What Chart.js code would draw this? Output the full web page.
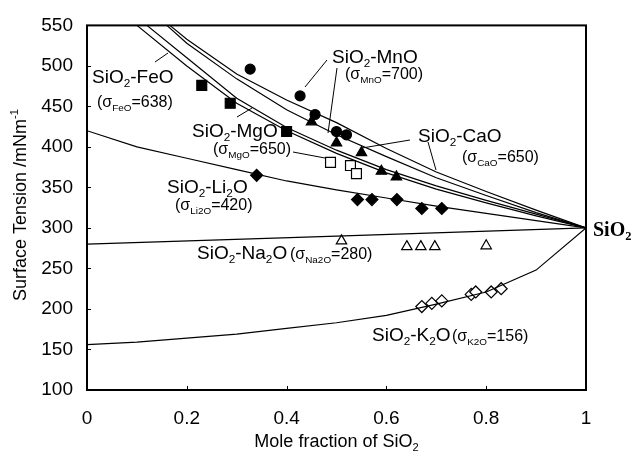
<!DOCTYPE html>
<html>
<head>
<meta charset="utf-8">
<script src="https://cdn.jsdelivr.net/npm/chart.js@4"></script>
<style>
  html, body { margin: 0; padding: 0; background: #fff; }
  #wrap { width: 639px; height: 453px; }
</style>
</head>
<body>
<div id="wrap"><canvas id="chart" width="639" height="453"></canvas></div>
<script>
// model curves
const feoX = [0.1, 0.2, 0.3, 0.4, 0.5, 0.6, 0.7, 0.8, 0.9, 1];
const feoY = [550, 500, 454, 420, 392, 368, 348, 331, 315, 300];
const mgoX = [0.12, 0.2, 0.3, 0.4, 0.5, 0.6, 0.7, 0.8, 0.9, 1];
const mgoY = [550, 510, 460, 424, 396, 372, 352, 334, 317, 300];
const mnoX = [0.16, 0.2, 0.3, 0.4, 0.5, 0.6, 0.7, 0.8, 0.9, 1];
const mnoY = [550, 528, 484, 446, 415, 388, 362, 340, 319, 300];
const caoX = [0.166, 0.2, 0.3, 0.4, 0.5, 0.6, 0.7, 0.8, 0.9, 1];
const caoY = [550, 533, 490, 458, 430, 398, 369, 345, 322, 300];
const li2oX = [0, 0.1, 0.2, 0.3, 0.4, 0.5, 0.6, 0.7, 0.8, 0.9, 1];
const li2oY = [420, 400, 386, 372, 358, 347, 337, 327, 318, 309, 300];
const na2oX = [0, 0.5, 1];
const na2oY = [280, 290, 300];
const k2oX = [0, 0.1, 0.2, 0.3, 0.4, 0.5, 0.6, 0.7, 0.8, 0.9, 1];
const k2oY = [156, 159, 164, 169, 176, 183, 192, 206, 221, 248, 300];

// measured points
const feoDataX = [0.23, 0.287, 0.40];
const feoDataY = [476, 454, 419];
const mnoDataX = [0.327, 0.427, 0.457, 0.50, 0.52];
const mnoDataY = [496, 463, 440, 419, 415];
const caoDataX = [0.45, 0.50, 0.55, 0.59, 0.62];
const caoDataY = [431, 405, 393, 370, 363];
const mgoDataX = [0.488, 0.528, 0.54];
const mgoDataY = [381, 377, 367];
const li2oDataX = [0.34, 0.542, 0.571, 0.621, 0.671, 0.711];
const li2oDataY = [365, 335, 335, 335, 324, 324];
const na2oDataX = [0.51, 0.641, 0.669, 0.697, 0.80];
const na2oDataY = [284, 277, 277, 277, 278];
const k2oDataX = [0.671, 0.691, 0.711, 0.770, 0.779, 0.810, 0.830];
const k2oDataY = [203, 207, 210, 218, 221, 221, 225];

const yTicks = [100, 150, 200, 250, 300, 350, 400, 450, 500, 550];
const xTicks = [0, 0.2, 0.4, 0.6, 0.8, 1];

const SANS = "'Liberation Sans', Arial, sans-serif";
const SERIF = "'Liberation Serif', 'Times New Roman', serif";

const toPoints = (xs, ys) => xs.map((x, i) => ({ x: x, y: ys[i] }));

function curve(xs, ys) {
  return {
    data: toPoints(xs, ys),
    showLine: true,
    borderColor: '#000',
    borderWidth: 1.2,
    pointRadius: 0,
    tension: 0
  };
}

function marks(xs, ys, style, radius, filled) {
  return {
    data: toPoints(xs, ys),
    showLine: false,
    pointStyle: style,
    pointRadius: radius,
    pointBorderColor: '#000',
    pointBorderWidth: 1.2,
    pointBackgroundColor: filled ? '#000' : '#fff'
  };
}

// text with sub/superscripts
function richWidth(ctx, parts, size, family, weight) {
  let w = 0;
  parts.forEach(p => {
    const t = Array.isArray(p) ? p[0] : p;
    const mode = Array.isArray(p) ? p[1] : '';
    const fs = mode ? size * 0.62 : size;
    ctx.font = `${weight || ''} ${fs}px ${family}`;
    w += ctx.measureText(t).width;
  });
  return w;
}

function drawRich(ctx, x, y, parts, size, family, weight) {
  let cx = x;
  parts.forEach(p => {
    const t = Array.isArray(p) ? p[0] : p;
    const mode = Array.isArray(p) ? p[1] : '';
    let fs = size, dy = 0;
    if (mode === 'sub') { fs = size * 0.62; dy = size * 0.22; }
    if (mode === 'sup') { fs = size * 0.62; dy = -size * 0.42; }
    ctx.font = `${weight || ''} ${fs}px ${family}`;
    ctx.fillText(t, cx, y + dy);
    cx += ctx.measureText(t).width;
  });
}

const labels = [
  { x: 92, y: 83, size: 19, parts: ['SiO', ['2', 'sub'], '-FeO'] },
  { x: 97, y: 107, size: 16, parts: ['(σ', ['FeO', 'sub'], '=638)'] },
  { x: 192, y: 137, size: 19, parts: ['SiO', ['2', 'sub'], '-MgO'] },
  { x: 213, y: 154, size: 16, parts: ['(σ', ['MgO', 'sub'], '=650)'] },
  { x: 167, y: 193, size: 19, parts: ['SiO', ['2', 'sub'], '-Li', ['2', 'sub'], 'O'] },
  { x: 175, y: 210, size: 16, parts: ['(σ', ['Li2O', 'sub'], '=420)'] },
  { x: 332, y: 63, size: 19, parts: ['SiO', ['2', 'sub'], '-MnO'] },
  { x: 345, y: 79, size: 16, parts: ['(σ', ['MnO', 'sub'], '=700)'] },
  { x: 418, y: 142, size: 19, parts: ['SiO', ['2', 'sub'], '-CaO'] },
  { x: 462, y: 162, size: 16, parts: ['(σ', ['CaO', 'sub'], '=650)'] },
  { x: 197, y: 259, size: 19, parts: ['SiO', ['2', 'sub'], '-Na', ['2', 'sub'], 'O'] },
  { x: 290, y: 259, size: 16, parts: ['(σ', ['Na2O', 'sub'], '=280)'] },
  { x: 372, y: 341, size: 19, parts: ['SiO', ['2', 'sub'], '-K', ['2', 'sub'], 'O'] },
  { x: 452, y: 341, size: 16, parts: ['(σ', ['K2O', 'sub'], '=156)'] }
];

const leaders = [
  [155, 62, 168, 53],
  [237, 117, 252, 108],
  [293, 152, 325, 158],
  [327, 60, 305, 87],
  [337, 68, 328, 133],
  [410, 140, 362, 148],
  [428, 142, 436, 170]
];

const decorPlugin = {
  id: 'decor',
  afterDraw(chart) {
    const ctx = chart.ctx;
    const a = chart.chartArea;
    const xs = chart.scales.x, ys = chart.scales.y;
    ctx.save();
    ctx.strokeStyle = '#000';
    ctx.fillStyle = '#000';
    // frame
    ctx.lineWidth = 2;
    ctx.strokeRect(a.left, a.top, a.right - a.left, a.bottom - a.top);
    // tick marks, pointing inward
    ctx.lineWidth = 1;
    ctx.beginPath();
    xTicks.slice(1, -1).forEach(v => {
      const px = Math.round(xs.getPixelForValue(v)) + 0.5;
      ctx.moveTo(px, a.bottom);
      ctx.lineTo(px, a.bottom - 4);
    });
    yTicks.slice(1, -1).forEach(v => {
      const py = Math.round(ys.getPixelForValue(v)) + 0.5;
      ctx.moveTo(a.left, py);
      ctx.lineTo(a.left + 4, py);
    });
    ctx.stroke();
    // leader lines
    ctx.beginPath();
    leaders.forEach(l => {
      ctx.moveTo(l[0], l[1]);
      ctx.lineTo(l[2], l[3]);
    });
    ctx.stroke();
    // labels
    ctx.textBaseline = 'alphabetic';
    ctx.textAlign = 'left';
    labels.forEach(l => drawRich(ctx, l.x, l.y, l.parts, l.size, SANS));
    drawRich(ctx, 593, 236, ['SiO', ['2', 'sub']], 20, SERIF, 'bold');
    // x title
    const xt = ['Mole fraction of SiO', ['2', 'sub']];
    const xw = richWidth(ctx, xt, 18, SANS);
    drawRich(ctx, (a.left + a.right) / 2 - xw / 2, 447, xt, 18, SANS);
    // y title
    const yt = ['Surface Tension /mNm', ['-1', 'sup']];
    const yw = richWidth(ctx, yt, 18, SANS);
    ctx.translate(26, 205);
    ctx.rotate(-Math.PI / 2);
    drawRich(ctx, -yw / 2, 0, yt, 18, SANS);
    ctx.restore();
  }
};

new Chart(document.getElementById('chart').getContext('2d'), {
  type: 'scatter',
  data: {
    datasets: [
      curve(feoX, feoY),
      curve(mgoX, mgoY),
      curve(mnoX, mnoY),
      curve(caoX, caoY),
      curve(li2oX, li2oY),
      curve(na2oX, na2oY),
      curve(k2oX, k2oY),
      marks(feoDataX, feoDataY, 'rect', 7, true),
      marks(mnoDataX, mnoDataY, 'circle', 5, true),
      marks(caoDataX, caoDataY, 'triangle', 6, true),
      marks(mgoDataX, mgoDataY, 'rect', 7, false),
      marks(li2oDataX, li2oDataY, 'rectRot', 6, true),
      marks(na2oDataX, na2oDataY, 'triangle', 6, false),
      marks(k2oDataX, k2oDataY, 'rectRot', 6, false)
    ]
  },
  options: {
    responsive: false,
    animation: false,
    layout: { padding: { left: 0, right: 53, top: 21, bottom: 0 } },
    plugins: {
      legend: { display: false },
      tooltip: { enabled: false }
    },
    scales: {
      x: {
        type: 'linear',
        min: 0,
        max: 1,
        afterBuildTicks: s => { s.ticks = xTicks.map(v => ({ value: v })); },
        afterFit: s => { s.height = 63; },
        grid: { display: false, drawTicks: false },
        border: { display: false },
        ticks: {
          color: '#000',
          font: { family: SANS, size: 19 },
          padding: 17,
          maxRotation: 0,
          callback: v => String(v)
        }
      },
      y: {
        min: 100,
        max: 550,
        afterBuildTicks: s => { s.ticks = yTicks.map(v => ({ value: v })); },
        afterFit: s => { s.width = 87; },
        grid: { display: false, drawTicks: false },
        border: { display: false },
        ticks: {
          color: '#000',
          font: { family: SANS, size: 19 },
          padding: 14
        }
      }
    }
  },
  plugins: [decorPlugin]
});
</script>
</body>
</html>
